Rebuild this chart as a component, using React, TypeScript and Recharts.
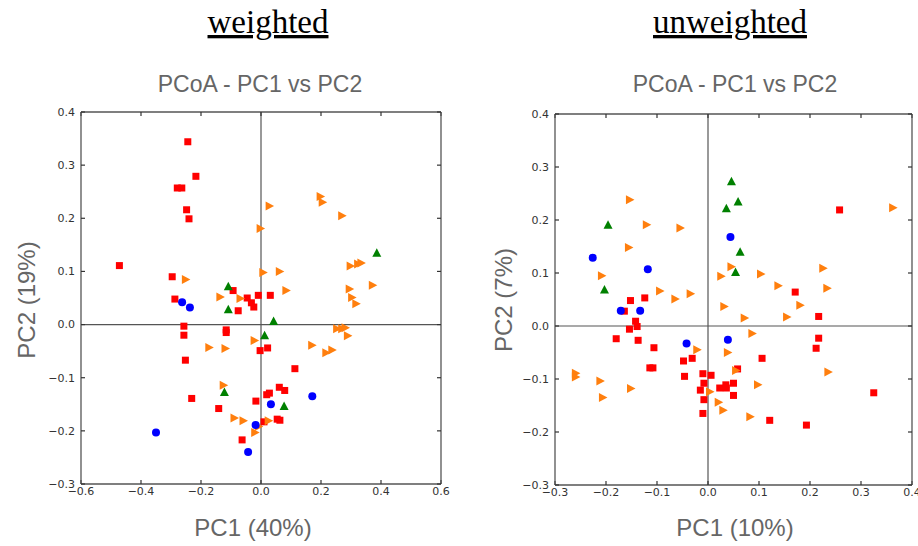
import React from "react";
import { ScatterChart, Scatter, XAxis, YAxis, ReferenceLine } from "recharts";

type Pt = [number, number];

// weighted UniFrac PCoA
const weightedRed: Pt[] = [
  [-0.244, 0.344], [-0.217, 0.279], [-0.279, 0.257], [-0.264, 0.257], [-0.248, 0.216],
  [-0.24, 0.199], [-0.472, 0.111], [-0.296, 0.09], [-0.287, 0.048], [-0.093, 0.064],
  [-0.046, 0.05], [-0.032, 0.041], [-0.024, 0.033], [-0.076, 0.026], [-0.009, 0.055],
  [0.031, 0.055], [-0.257, -0.003], [-0.257, -0.02], [-0.116, -0.01], [-0.116, -0.015],
  [-0.252, -0.067], [-0.003, -0.049], [0.022, -0.044], [0.113, -0.083], [-0.231, -0.139],
  [-0.141, -0.158], [-0.017, -0.144], [0.019, -0.132], [0.028, -0.129], [0.061, -0.118],
  [0.079, -0.124], [0.054, -0.178], [0.063, -0.18], [0.01, -0.183], [-0.063, -0.217],
];
const weightedOrange: Pt[] = [
  [0.027, 0.223], [-0.003, 0.181], [0.197, 0.241], [0.204, 0.23], [0.269, 0.205],
  [0.006, 0.098], [0.061, 0.1], [0.083, 0.064], [-0.252, 0.085], [-0.137, 0.052],
  [-0.07, 0.049], [0.297, 0.11], [0.322, 0.114], [0.333, 0.116], [0.294, 0.067],
  [0.302, 0.051], [0.316, 0.039], [0.371, 0.074], [0.252, -0.008], [0.269, -0.008],
  [0.28, -0.006], [0.288, -0.021], [-0.023, -0.03], [-0.174, -0.043], [-0.12, -0.045],
  [0.169, -0.039], [0.216, -0.053], [0.236, -0.048], [-0.126, -0.114], [-0.09, -0.176],
  [-0.06, -0.181], [0.024, -0.181], [-0.021, -0.203], [-0.009, -0.192],
];
const weightedGreen: Pt[] = [
  [-0.109, 0.071], [-0.109, 0.028], [0.042, 0.006], [0.012, -0.021], [0.386, 0.134],
  [-0.122, -0.128], [0.077, -0.154],
];
const weightedBlue: Pt[] = [
  [-0.263, 0.042], [-0.237, 0.032], [-0.35, -0.203], [0.033, -0.15], [-0.018, -0.189],
  [-0.043, -0.24], [0.171, -0.135],
];

// unweighted UniFrac PCoA
const unweightedRed: Pt[] = [
  [0.258, 0.219], [0.171, 0.064], [0.217, 0.018], [0.217, -0.023], [0.212, -0.042],
  [-0.164, 0.028], [-0.152, 0.048], [-0.124, 0.053], [-0.142, 0.009], [-0.139, -0.001],
  [-0.154, -0.006], [-0.18, -0.024], [-0.137, -0.027], [-0.106, -0.041], [-0.114, -0.079],
  [-0.108, -0.079], [-0.048, -0.066], [-0.031, -0.061], [-0.046, -0.095], [-0.01, -0.09],
  [0.006, -0.093], [-0.008, -0.108], [-0.015, -0.121], [-0.008, -0.139], [-0.01, -0.165],
  [0.023, -0.117], [0.035, -0.111], [0.036, -0.117], [0.05, -0.108], [0.05, -0.131],
  [0.058, -0.081], [0.106, -0.061], [0.121, -0.178], [0.193, -0.187], [0.325, -0.126],
];
const unweightedOrange: Pt[] = [
  [-0.154, 0.238], [-0.121, 0.191], [-0.055, 0.185], [-0.156, 0.148], [-0.209, 0.095],
  [-0.095, 0.066], [-0.065, 0.051], [-0.035, 0.061], [0.025, 0.094], [0.045, 0.112],
  [0.103, 0.098], [0.137, 0.076], [0.225, 0.109], [0.233, 0.071], [0.18, 0.039],
  [0.031, 0.037], [0.071, 0.015], [0.154, 0.017], [0.086, -0.014], [-0.022, -0.045],
  [0.038, -0.05], [0.054, -0.084], [0.362, 0.223], [-0.26, -0.089], [-0.26, -0.096],
  [-0.212, -0.104], [-0.152, -0.118], [-0.207, -0.135], [0.097, -0.111], [0.235, -0.087],
  [0.003, -0.124], [0.02, -0.144], [0.029, -0.159], [0.082, -0.171],
];
const unweightedGreen: Pt[] = [
  [0.046, 0.272], [0.059, 0.234], [0.036, 0.221], [-0.196, 0.19], [0.063, 0.139],
  [0.054, 0.101], [-0.203, 0.068],
];
const unweightedBlue: Pt[] = [
  [-0.226, 0.129], [-0.118, 0.107], [0.044, 0.168], [-0.171, 0.029], [-0.133, 0.029],
  [-0.042, -0.033], [0.039, -0.026],
];

const weightedXTicks = [-0.6, -0.4, -0.2, 0, 0.2, 0.4, 0.6];
const unweightedXTicks = [-0.3, -0.2, -0.1, 0, 0.1, 0.2, 0.3, 0.4];
const yTicks = [-0.3, -0.2, -0.1, 0, 0.1, 0.2, 0.3, 0.4];

const rows = (pts: Pt[]) => pts.map(([x, y]) => ({ x, y }));
const fmt = (v: number) => (v < 0 ? "\u2212" : "") + Math.abs(v).toFixed(1);
const blank = () => "";

const Square = (p: any) => (
  <rect x={p.cx - 3.5} y={p.cy - 3.5} width={7} height={7} fill="#ff0000" />
);
const Dot = (p: any) => <circle cx={p.cx} cy={p.cy} r={4} fill="#0000ff" />;
const TriUp = (p: any) => (
  <polygon
    points={`${p.cx},${p.cy - 5} ${p.cx + 4.5},${p.cy + 3.5} ${p.cx - 4.5},${p.cy + 3.5}`}
    fill="#008000"
  />
);
const TriRight = (p: any) => (
  <polygon
    points={`${p.cx + 5},${p.cy} ${p.cx - 3.5},${p.cy - 4.5} ${p.cx - 3.5},${p.cy + 4.5}`}
    fill="#ff7f0e"
  />
);

const tickStyle = { fill: "#333", fontSize: 11, fontFamily: "DejaVu Sans" };
const boxLine = { stroke: "#555", strokeWidth: 1.3 };
const tickLine = { stroke: "#333", strokeWidth: 1.2 };

interface PanelProps {
  width: number;
  margin: { top: number; right: number; bottom: number; left: number };
  xTicks: number[];
  red: Pt[];
  orange: Pt[];
  green: Pt[];
  blue: Pt[];
}

// axes are 1px thick so margins are the plot box edges minus 1
function Panel({ width, margin, xTicks, red, orange, green, blue }: PanelProps) {
  const xDomain = [xTicks[0], xTicks[xTicks.length - 1]];
  const yDomain = [yTicks[0], yTicks[yTicks.length - 1]];
  return (
    <ScatterChart width={width} height={546} margin={margin}>
      <XAxis
        xAxisId="b"
        type="number"
        dataKey="x"
        domain={xDomain}
        ticks={xTicks}
        interval={0}
        allowDataOverflow
        height={1}
        tickSize={-4}
        tickMargin={7}
        tickFormatter={fmt}
        tick={tickStyle}
        axisLine={boxLine}
        tickLine={tickLine}
      />
      <XAxis
        xAxisId="t"
        orientation="top"
        type="number"
        dataKey="x"
        domain={xDomain}
        ticks={xTicks}
        interval={0}
        allowDataOverflow
        height={1}
        tickSize={-4}
        tickFormatter={blank}
        axisLine={boxLine}
        tickLine={tickLine}
      />
      <YAxis
        yAxisId="l"
        type="number"
        dataKey="y"
        domain={yDomain}
        ticks={yTicks}
        interval={0}
        allowDataOverflow
        width={1}
        tickSize={-4}
        tickMargin={10}
        tickFormatter={fmt}
        tick={tickStyle}
        axisLine={boxLine}
        tickLine={tickLine}
      />
      <YAxis
        yAxisId="r"
        orientation="right"
        type="number"
        dataKey="y"
        domain={yDomain}
        ticks={yTicks}
        interval={0}
        allowDataOverflow
        width={1}
        tickSize={-4}
        tickFormatter={blank}
        axisLine={boxLine}
        tickLine={tickLine}
      />
      <ReferenceLine xAxisId="b" yAxisId="l" x={0} stroke="#555" strokeWidth={1.2} />
      <ReferenceLine xAxisId="b" yAxisId="l" y={0} stroke="#555" strokeWidth={1.2} />
      <Scatter xAxisId="b" yAxisId="l" data={rows(red)} shape={Square} isAnimationActive={false} />
      <Scatter xAxisId="b" yAxisId="l" data={rows(orange)} shape={TriRight} isAnimationActive={false} />
      <Scatter xAxisId="b" yAxisId="l" data={rows(green)} shape={TriUp} isAnimationActive={false} />
      <Scatter xAxisId="b" yAxisId="l" data={rows(blue)} shape={Dot} isAnimationActive={false} />
    </ScatterChart>
  );
}

const sans = "Liberation Sans, Arial, sans-serif";
const serif = "Liberation Serif, Times New Roman, serif";

export default function App() {
  return (
    <div style={{ position: "absolute", left: 0, top: 0, width: 918, height: 546, background: "#fff", overflow: "hidden" }}>
      <div style={{ position: "absolute", left: 0, top: 0 }}>
        <Panel
          width={460}
          margin={{ top: 111, right: 18, bottom: 61, left: 80 }}
          xTicks={weightedXTicks}
          red={weightedRed}
          orange={weightedOrange}
          green={weightedGreen}
          blue={weightedBlue}
        />
      </div>
      <div style={{ position: "absolute", left: 460, top: 0 }}>
        <Panel
          width={458}
          margin={{ top: 113, right: 5, bottom: 60, left: 94 }}
          xTicks={unweightedXTicks}
          red={unweightedRed}
          orange={unweightedOrange}
          green={unweightedGreen}
          blue={unweightedBlue}
        />
      </div>
      <svg width={918} height={546} style={{ position: "absolute", left: 0, top: 0, pointerEvents: "none" }}>
        <text x={268} y={33} textAnchor="middle" fontFamily={serif} fontSize={33} fill="#000" style={{ textDecoration: "underline" }}>
          weighted
        </text>
        <text x={730} y={33} textAnchor="middle" fontFamily={serif} fontSize={33} fill="#000" style={{ textDecoration: "underline" }}>
          unweighted
        </text>
        <text x={260} y={92} textAnchor="middle" fontFamily={sans} fontSize={23} fill="#666">
          PCoA - PC1 vs PC2
        </text>
        <text x={735} y={92} textAnchor="middle" fontFamily={sans} fontSize={23} fill="#666">
          PCoA - PC1 vs PC2
        </text>
        <text transform="translate(35,300) rotate(-90)" textAnchor="middle" fontFamily={sans} fontSize={24} fill="#666">
          PC2 (19%)
        </text>
        <text transform="translate(512,300) rotate(-90)" textAnchor="middle" fontFamily={sans} fontSize={24} fill="#666">
          PC2 (7%)
        </text>
        <text x={253} y={536} textAnchor="middle" fontFamily={sans} fontSize={24} fill="#666">
          PC1 (40%)
        </text>
        <text x={735} y={536} textAnchor="middle" fontFamily={sans} fontSize={24} fill="#666">
          PC1 (10%)
        </text>
      </svg>
    </div>
  );
}
